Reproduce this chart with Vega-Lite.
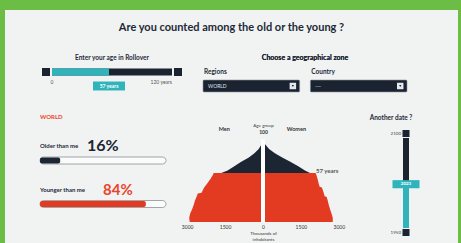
{
  "$schema": "https://vega.github.io/schema/vega-lite/v6.json",
  "background": "#6cbd45",
  "padding": {"left": 5, "top": 10, "right": 3, "bottom": 0},
  "spacing": 0,
  "config": {
    "view": {"fill": "#f1f3f3", "stroke": null},
    "font": "Lato",
    "concat": {"spacing": 0}
  },
  "vconcat": [
    {
      "width": 453,
      "height": 36,
      "data": {"values": [{"t": "Are you counted among the old or the young ?", "c": 0}]},
      "mark": {"type": "text", "fontSize": 11, "fontWeight": "bold", "color": "#1e2937", "baseline": "middle"},
      "encoding": {
        "x": {"field": "c", "type": "quantitative", "scale": {"domain": [-1, 1], "zero": false, "nice": false}, "axis": null},
        "y": {"field": "c", "type": "quantitative", "scale": {"domain": [-1, 1], "zero": false, "nice": false}, "axis": null},
        "text": {"field": "t", "type": "nominal"}
      }
    },
    {
      "spacing": 0,
      "hconcat": [
        {
          "width": 190,
          "height": 60,
          "data": {"values": [{"row": "track", "min": 0, "max": 120, "age": 57, "label": "57 years"}]},
          "layer": [
            {
              "mark": {"type": "text", "text": "Enter your age in Rollover", "fontSize": 6.5, "fontWeight": "bold", "color": "#1e2937"},
              "encoding": {
                "x": {"datum": 60, "type": "quantitative", "scale": {"domain": [0, 120], "range": [47, 167], "zero": false, "nice": false}, "axis": null},
                "y": {"datum": "heading", "type": "nominal", "scale": {"type": "point", "domain": ["heading", "track", "value"], "range": [12, 40], "padding": 0}, "axis": null}
              }
            },
            {
              "mark": {"type": "rect", "height": 7, "color": "#1b2330"},
              "encoding": {
                "x": {"field": "min", "type": "quantitative"},
                "x2": {"field": "max"},
                "y": {"field": "row", "type": "nominal"}
              }
            },
            {
              "mark": {"type": "rect", "height": 7, "color": "#2fb4bc"},
              "encoding": {
                "x": {"field": "min", "type": "quantitative"},
                "x2": {"field": "age"},
                "y": {"field": "row", "type": "nominal"}
              }
            },
            {
              "mark": {"type": "point", "shape": "square", "filled": true, "opacity": 1, "size": 64, "color": "#1b2330", "xOffset": -6},
              "encoding": {"x": {"field": "min", "type": "quantitative"}, "y": {"field": "row", "type": "nominal"}}
            },
            {
              "mark": {"type": "point", "shape": "square", "filled": true, "opacity": 1, "size": 64, "color": "#1b2330", "xOffset": 6},
              "encoding": {"x": {"field": "max", "type": "quantitative"}, "y": {"field": "row", "type": "nominal"}}
            },
            {
              "mark": {"type": "text", "fontSize": 5, "color": "#555555", "dy": 10},
              "encoding": {"x": {"field": "min", "type": "quantitative"}, "y": {"field": "row", "type": "nominal"}, "text": {"field": "min", "type": "quantitative"}}
            },
            {
              "mark": {"type": "text", "text": "120 years", "fontSize": 5, "color": "#555555", "dy": 10, "align": "right"},
              "encoding": {"x": {"field": "max", "type": "quantitative"}, "y": {"field": "row", "type": "nominal"}}
            },
            {
              "mark": {"type": "point", "shape": "M-1,-0.28H1V0.28H-1Z", "filled": true, "opacity": 1, "size": 1024, "color": "#2fb4bc"},
              "encoding": {"x": {"field": "age", "type": "quantitative"}, "y": {"datum": "value", "type": "nominal"}}
            },
            {
              "mark": {"type": "text", "fontSize": 5, "fontWeight": "bold", "color": "#ffffff"},
              "encoding": {"x": {"field": "age", "type": "quantitative"}, "y": {"datum": "value", "type": "nominal"}, "text": {"field": "label", "type": "nominal"}}
            }
          ]
        },
        {
          "width": 220,
          "height": 60,
          "data": {"values": [
            {"control": "Regions", "row": "box", "value": "WORLD"},
            {"control": "Country", "row": "box", "value": "---"}
          ]},
          "layer": [
            {
              "mark": {"type": "text", "text": "Choose a geographical zone", "fontSize": 7, "fontWeight": "bold", "color": "#1e2937"},
              "encoding": {
                "y": {"datum": "heading", "type": "nominal", "scale": {"type": "point", "domain": ["heading", "label", "box"], "range": [12, 40], "padding": 0}, "axis": null}
              }
            },
            {
              "mark": {"type": "text", "align": "left", "dx": 1, "fontSize": 6.5, "fontWeight": "bold", "color": "#1e2937"},
              "encoding": {
                "x": {"field": "control", "type": "nominal", "bandPosition": 0, "scale": {"type": "band", "domain": ["Regions", "Country"], "range": [8, 212], "paddingInner": 0.1, "paddingOuter": 0}, "axis": null},
                "y": {"datum": "label", "type": "nominal"},
                "text": {"field": "control", "type": "nominal"}
              }
            },
            {
              "mark": {"type": "rect", "height": 12, "color": "#1b2330", "stroke": "#8a939c", "strokeWidth": 0.6, "cornerRadius": 1},
              "encoding": {
                "x": {"field": "control", "type": "nominal"},
                "y": {"field": "row", "type": "nominal"}
              }
            },
            {
              "mark": {"type": "text", "align": "left", "dx": 5, "fontSize": 5, "color": "#dfe4ea"},
              "encoding": {
                "x": {"field": "control", "type": "nominal", "bandPosition": 0},
                "y": {"field": "row", "type": "nominal"},
                "text": {"field": "value", "type": "nominal"}
              }
            },
            {
              "mark": {"type": "point", "shape": "square", "filled": true, "opacity": 1, "size": 42, "color": "#e6e9ec"},
              "encoding": {
                "x": {"field": "control", "type": "nominal", "bandPosition": 0.93},
                "y": {"field": "row", "type": "nominal"}
              }
            },
            {
              "mark": {"type": "point", "shape": "triangle-down", "filled": true, "opacity": 1, "size": 5, "color": "#1b2330"},
              "encoding": {
                "x": {"field": "control", "type": "nominal", "bandPosition": 0.93},
                "y": {"field": "row", "type": "nominal"}
              }
            }
          ]
        },
        {
          "width": 43,
          "height": 60,
          "data": {"values": [{"blank": "", "c": 0}]},
          "mark": {"type": "text"},
          "encoding": {
            "x": {"field": "c", "type": "quantitative", "scale": {"domain": [-1, 1], "zero": false, "nice": false}, "axis": null},
            "y": {"field": "c", "type": "quantitative", "scale": {"domain": [-1, 1], "zero": false, "nice": false}, "axis": null},
            "text": {"field": "blank", "type": "nominal"}
          }
        }
      ]
    },
    {
      "spacing": 0,
      "hconcat": [
        {
          "width": 167,
          "height": 137,
          "layer": [
            {
              "data": {"values": [{"row": "zone", "text": "WORLD"}]},
              "mark": {"type": "text", "align": "left", "fontSize": 6, "fontWeight": "bold", "color": "#e8452c"},
              "encoding": {
                "x": {"datum": 0, "type": "quantitative", "scale": {"domain": [0, 100], "range": [35, 161], "zero": false, "nice": false}, "axis": null},
                "y": {"field": "row", "type": "nominal", "scale": {"type": "point", "domain": ["zone", "z1", "older", "olderBar", "y1", "younger", "youngerBar"], "range": [11, 98], "padding": 0}, "axis": null},
                "text": {"field": "text", "type": "nominal"}
              }
            },
            {
              "data": {"values": [{"row": "older", "text": "Older than me"}, {"row": "younger", "text": "Younger than me"}]},
              "mark": {"type": "text", "align": "left", "fontSize": 6, "fontWeight": "bold", "color": "#1e2937"},
              "encoding": {
                "x": {"datum": 0, "type": "quantitative"},
                "y": {"field": "row", "type": "nominal"},
                "text": {"field": "text", "type": "nominal"}
              }
            },
            {
              "data": {"values": [{"row": "older", "pct": "16%"}]},
              "mark": {"type": "text", "align": "left", "dx": 47, "fontSize": 16, "fontWeight": "bold", "color": "#1c2532"},
              "encoding": {
                "x": {"datum": 0, "type": "quantitative"},
                "y": {"field": "row", "type": "nominal"},
                "text": {"field": "pct", "type": "nominal"}
              }
            },
            {
              "data": {"values": [{"row": "younger", "pct": "84%"}]},
              "mark": {"type": "text", "align": "left", "dx": 63, "fontSize": 15, "fontWeight": "bold", "color": "#e8452c"},
              "encoding": {
                "x": {"datum": 0, "type": "quantitative"},
                "y": {"field": "row", "type": "nominal"},
                "text": {"field": "pct", "type": "nominal"}
              }
            },
            {
              "data": {"values": [{"row": "olderBar", "kind": "older", "start": 0, "full": 100, "share": 16}, {"row": "youngerBar", "kind": "younger", "start": 0, "full": 100, "share": 84}]},
              "layer": [
                {
                  "mark": {"type": "rect", "height": 7, "color": "#fafbfb", "stroke": "#8b9198", "strokeWidth": 0.8, "cornerRadius": 3.5},
                  "encoding": {
                    "x": {"field": "start", "type": "quantitative"},
                    "x2": {"field": "full"},
                    "y": {"field": "row", "type": "nominal"}
                  }
                },
                {
                  "mark": {"type": "rect", "height": 6, "cornerRadius": 2},
                  "encoding": {
                    "x": {"field": "start", "type": "quantitative"},
                    "x2": {"field": "share"},
                    "y": {"field": "row", "type": "nominal"},
                    "color": {"field": "kind", "type": "nominal", "scale": {"domain": ["older", "younger"], "range": ["#1c2532", "#e23b22"]}, "legend": null}
                  }
                }
              ]
            }
          ]
        },
        {
          "width": 182,
          "height": 137,
          "layer": [
            {
              "data": {"values": [
                {"age": 0, "pop": 2900, "seg": "younger"},
                {"age": 5, "pop": 2920, "seg": "younger"},
                {"age": 10, "pop": 2880, "seg": "younger"},
                {"age": 15, "pop": 2800, "seg": "younger"},
                {"age": 20, "pop": 2740, "seg": "younger"},
                {"age": 25, "pop": 2690, "seg": "younger"},
                {"age": 30, "pop": 2620, "seg": "younger"},
                {"age": 33, "pop": 2580, "seg": "younger"},
                {"age": 34, "pop": 2430, "seg": "younger"},
                {"age": 40, "pop": 2330, "seg": "younger"},
                {"age": 45, "pop": 2200, "seg": "younger"},
                {"age": 50, "pop": 2080, "seg": "younger"},
                {"age": 55, "pop": 1980, "seg": "younger"},
                {"age": 57, "pop": 1950, "seg": "younger"},
                {"age": 57, "pop": 1650, "seg": "older"},
                {"age": 60, "pop": 1400, "seg": "older"},
                {"age": 65, "pop": 1120, "seg": "older"},
                {"age": 70, "pop": 860, "seg": "older"},
                {"age": 75, "pop": 560, "seg": "older"},
                {"age": 80, "pop": 340, "seg": "older"},
                {"age": 85, "pop": 170, "seg": "older"},
                {"age": 90, "pop": 60, "seg": "older"},
                {"age": 95, "pop": 0, "seg": "older"}
              ]},
              "mark": {"type": "area", "orient": "horizontal", "interpolate": "linear"},
              "encoding": {
                "y": {
                  "field": "age", "type": "quantitative",
                  "scale": {"domain": [0, 100], "range": [116, 30], "zero": false, "nice": false},
                  "axis": {
                    "orient": "left", "offset": -91, "values": [100], "labelAlign": "center", "labelBaseline": "middle",
                    "labelPadding": 0, "ticks": false, "tickSize": 0, "domain": false, "grid": false, "labelOffset": -5,
                    "labelFontSize": 5, "labelFontWeight": "bold", "labelColor": "#333333",
                    "title": "Age group", "titleAngle": 0, "titleAlign": "center", "titleBaseline": "middle",
                    "titleX": 0, "titleY": 19, "titleFontSize": 4.5, "titleFontWeight": "normal", "titleColor": "#333333"
                  }
                },
                "x": {"field": "pop", "type": "quantitative", "stack": null, "scale": {"domain": [-3600, 3600], "reverse": true, "zero": false, "nice": false}, "axis": null},
                "color": {"field": "seg", "type": "nominal", "scale": {"domain": ["younger", "older"], "range": ["#e8361e", "#1b2330"]}, "legend": null}
              }
            },
            {
              "data": {"values": [
                {"age": 0, "pop": 2760, "seg": "younger"},
                {"age": 5, "pop": 2760, "seg": "younger"},
                {"age": 10, "pop": 2710, "seg": "younger"},
                {"age": 15, "pop": 2650, "seg": "younger"},
                {"age": 20, "pop": 2600, "seg": "younger"},
                {"age": 25, "pop": 2560, "seg": "younger"},
                {"age": 29, "pop": 2520, "seg": "younger"},
                {"age": 30, "pop": 2440, "seg": "younger"},
                {"age": 35, "pop": 2390, "seg": "younger"},
                {"age": 40, "pop": 2330, "seg": "younger"},
                {"age": 41, "pop": 2240, "seg": "younger"},
                {"age": 45, "pop": 2200, "seg": "younger"},
                {"age": 50, "pop": 2160, "seg": "younger"},
                {"age": 55, "pop": 2110, "seg": "younger"},
                {"age": 57, "pop": 2080, "seg": "younger"},
                {"age": 57, "pop": 1860, "seg": "older"},
                {"age": 60, "pop": 1660, "seg": "older"},
                {"age": 65, "pop": 1380, "seg": "older"},
                {"age": 68, "pop": 1200, "seg": "older"},
                {"age": 70, "pop": 1080, "seg": "older"},
                {"age": 75, "pop": 760, "seg": "older"},
                {"age": 80, "pop": 470, "seg": "older"},
                {"age": 85, "pop": 240, "seg": "older"},
                {"age": 90, "pop": 90, "seg": "older"},
                {"age": 95, "pop": 0, "seg": "older"}
              ]},
              "mark": {"type": "area", "orient": "horizontal", "interpolate": "linear"},
              "encoding": {
                "y": {"field": "age", "type": "quantitative"},
                "x": {
                  "field": "pop", "type": "quantitative", "stack": null,
                  "scale": {"domain": [-3600, 3600], "zero": false, "nice": false},
                  "axis": {
                    "orient": "bottom", "offset": -20, "values": [-3000, -1500, 0, 1500, 3000],
                    "labelExpr": "format(abs(datum.value), 'd')", "domain": false, "ticks": false, "tickSize": 0, "grid": false,
                    "labelFontSize": 5, "labelPadding": 1, "labelColor": "#333333", "labelOverlap": false, "labelFlush": false,
                    "title": ["Thousands of", "inhabitants"], "titleFontSize": 4.5, "titleFontWeight": "normal", "titlePadding": 1, "titleColor": "#333333"
                  }
                },
                "color": {"field": "seg", "type": "nominal"}
              }
            },
            {
              "data": {"values": [{"bottom": 0, "top": 96, "center": 0}]},
              "mark": {"type": "rule", "color": "#ffffff", "strokeWidth": 4},
              "encoding": {
                "x": {
                  "field": "center", "type": "quantitative",
                  "scale": {"domain": [-3600, 3600], "zero": false, "nice": false},
                  "axis": {
                    "orient": "top", "offset": -25, "values": [-1550, 1300],
                    "labelExpr": "datum.value < 0 ? 'Men' : 'Women'", "domain": false, "ticks": false, "tickSize": 0, "grid": false,
                    "labelPadding": 0, "labelFontSize": 5.5, "labelFontWeight": "bold", "labelColor": "#333333", "labelOverlap": false, "labelFlush": false, "title": null
                  }
                },
                "y": {"field": "bottom", "type": "quantitative"},
                "y2": {"field": "top"}
              }
            },
            {
              "data": {"values": [{"age": 57, "pop": 1860, "label": "57 years"}]},
              "mark": {"type": "text", "align": "left", "dx": 6, "dy": -2, "fontSize": 6, "fontWeight": "bold", "color": "#555555"},
              "encoding": {
                "x": {"field": "pop", "type": "quantitative", "scale": {"domain": [-3600, 3600], "zero": false, "nice": false}, "axis": null},
                "y": {"field": "age", "type": "quantitative"},
                "text": {"field": "label", "type": "nominal"}
              }
            }
          ],
          "resolve": {"scale": {"x": "independent"}, "axis": {"x": "independent"}}
        },
        {
          "width": 104,
          "height": 137,
          "data": {"values": [{"start": 1950, "end": 2100, "year": 2023}]},
          "layer": [
            {
              "mark": {"type": "text", "text": "Another date ?", "fontSize": 6.5, "fontWeight": "bold", "color": "#1e2937", "dx": -15, "dy": -20},
              "encoding": {"y": {"field": "end", "type": "quantitative", "scale": {"domain": [1950, 2100], "range": [122, 32], "zero": false, "nice": false}, "axis": null}}
            },
            {
              "mark": {"type": "rule", "color": "#1b2330", "strokeWidth": 6},
              "encoding": {"y": {"field": "start", "type": "quantitative"}, "y2": {"field": "end"}}
            },
            {
              "mark": {"type": "rule", "color": "#2fb4bc", "strokeWidth": 6},
              "encoding": {"y": {"field": "start", "type": "quantitative"}, "y2": {"field": "year"}}
            },
            {
              "mark": {"type": "point", "shape": "square", "filled": true, "opacity": 1, "size": 49, "color": "#1b2330", "yOffset": -4.5},
              "encoding": {"y": {"field": "end", "type": "quantitative"}}
            },
            {
              "mark": {"type": "point", "shape": "square", "filled": true, "opacity": 1, "size": 49, "color": "#1b2330", "yOffset": 4.5},
              "encoding": {"y": {"field": "start", "type": "quantitative"}}
            },
            {
              "mark": {"type": "text", "align": "right", "dx": -5, "yOffset": -4.5, "fontSize": 4.5, "color": "#444444"},
              "encoding": {"y": {"field": "end", "type": "quantitative"}, "text": {"field": "end", "type": "quantitative", "format": "d"}}
            },
            {
              "mark": {"type": "text", "align": "right", "dx": -5, "yOffset": 4.5, "fontSize": 4.5, "color": "#444444"},
              "encoding": {"y": {"field": "start", "type": "quantitative"}, "text": {"field": "start", "type": "quantitative", "format": "d"}}
            },
            {
              "mark": {"type": "point", "shape": "M-1,-0.3H1V0.3H-1Z", "filled": true, "opacity": 1, "size": 729, "color": "#2fb4bc"},
              "encoding": {"y": {"field": "year", "type": "quantitative"}}
            },
            {
              "mark": {"type": "text", "fontSize": 4.5, "fontWeight": "bold", "color": "#ffffff"},
              "encoding": {"y": {"field": "year", "type": "quantitative"}, "text": {"field": "year", "type": "quantitative", "format": "d"}}
            }
          ]
        }
      ]
    }
  ]
}
